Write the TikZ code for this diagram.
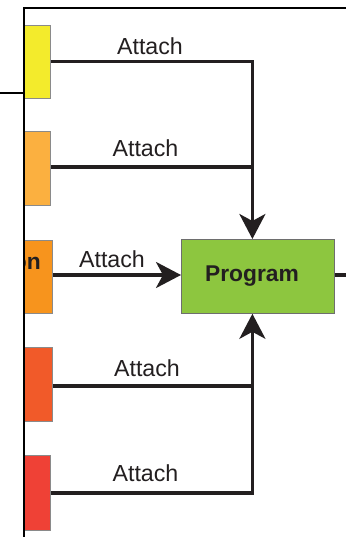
\documentclass[tikz,border=0pt]{standalone}
\usepackage{fontspec}
\setmainfont{Liberation Sans}
\usetikzlibrary{arrows.meta}
\definecolor{ink}{HTML}{231F20}
\definecolor{boxgray}{HTML}{8A8A8A}
\definecolor{cyel}{HTML}{F3EB2C}
\definecolor{corl}{HTML}{FBB040}
\definecolor{cor}{HTML}{F7941D}
\definecolor{cred1}{HTML}{F15A29}
\definecolor{cred2}{HTML}{EF4136}
\definecolor{cgreen}{HTML}{8DC63F}
\begin{document}
\begin{tikzpicture}[x=1pt,y=-1pt,
  src/.style={draw=boxgray, line width=0.8pt, inner sep=0pt, anchor=north west},
  prg/.style={draw=boxgray!80!black, line width=0.8pt, fill=cgreen, inner sep=0pt, anchor=north west, minimum width=153pt, minimum height=74pt},
  conn/.style={draw=ink, line width=3.2pt},
  arr/.style={-{Stealth[length=25pt,width=26pt,inset=7pt]}},
  lbl/.style={font=\fontsize{23.2}{28}\selectfont, text=ink, inner sep=0pt},
  bold/.style={font=\fontsize{22.8}{28}\selectfont\bfseries, text=ink, inner sep=0pt},
  frameline/.style={draw=black, line width=2pt}]
\useasboundingbox (0,0) rectangle (346,537);
\fill[white] (0,0) rectangle (346,537);
% source boxes
\node[src, fill=cyel,  minimum width=26pt, minimum height=73pt] (b1) at (24,25) {};
\node[src, fill=corl,  minimum width=26pt, minimum height=74pt] (b2) at (24,131) {};
\node[src, fill=cor,   minimum width=28pt, minimum height=73pt] (b3) at (24,240) {};
\node[src, fill=cred1, minimum width=28pt, minimum height=74pt] (b4) at (24,347) {};
\node[src, fill=cred2, minimum width=26pt, minimum height=75pt] (b5) at (24,455) {};
\begin{scope}
\clip (24.5,0) rectangle (346,537);
\node[bold, anchor=base east] (b3txt) at (41,269) {on};
\end{scope}
% program
\node[prg] (prog) at (181,239) {};
\node[bold, anchor=base] (progtxt) at (252,281) {Program};
\coordinate (vx) at ([xshift=-5.5pt]prog.north);
\coordinate (vxs) at ([xshift=-5.5pt]prog.south);
\coordinate (outc) at (346,275);
% connectors
\draw[conn, arr] (b1.east) -| (vx);
\draw[conn] (b2.east |- 0,167) -- (vx |- 0,167);
\draw[conn, arr] (b3.east |- 0,275) -- (prog.west |- 0,275);
\draw[conn] (b4.east |- 0,386) -- (vx |- 0,386);
\draw[conn, arr] (b5.east) -| (vxs);
\draw[conn] (prog.east |- outc) -- (outc);
% labels
\node[lbl] (l1) at (150,46) {Attach};
\node[lbl] (l2) at (145.5,148) {Attach};
\node[lbl] (l3) at (112,259) {Attach};
\node[lbl] (l4) at (147,368) {Attach};
\node[lbl] (l5) at (145.5,473) {Attach};
% frame
\draw[frameline, line join=miter] (24,537) -- (24,8.5) -- (346,8.5);
\draw[frameline, line width=1.6pt] (0,93) -- (24,93);
\end{tikzpicture}
\end{document}
